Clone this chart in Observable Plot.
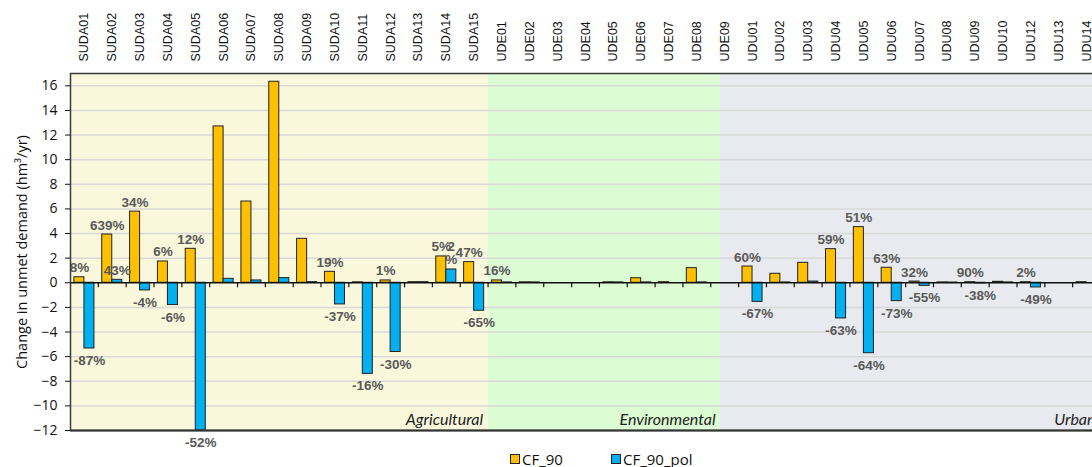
<!DOCTYPE html>
<html>
<head>
<meta charset="utf-8">
<script src="https://cdn.jsdelivr.net/npm/d3@7"></script>
<script src="https://cdn.jsdelivr.net/npm/@observablehq/plot@0.6"></script>
<style>
  html, body { margin: 0; padding: 0; background: #fff; }
  body { width: 1092px; height: 467px; overflow: hidden; }
  #chart { width: 1100px; }
  #legend { position: relative; height: 17px; font-family: "Open Sans", sans-serif; font-size: 15px; color: #111; }
  .item { position: absolute; top: 0; display: flex; align-items: center; height: 17px; }
  .sw { width: 8px; height: 8px; border: 1px solid #222; margin-right: 2px; }
</style>
</head>
<body>
<div id="chart"></div>
<div id="legend"></div>
<script>
const categories = ["SUDA01","SUDA02","SUDA03","SUDA04","SUDA05","SUDA06","SUDA07","SUDA08","SUDA09","SUDA10","SUDA11","SUDA12","SUDA13","SUDA14","SUDA15",
  "UDE01","UDE02","UDE03","UDE04","UDE05","UDE06","UDE07","UDE08","UDE09",
  "UDU01","UDU02","UDU03","UDU04","UDU05","UDU06","UDU07","UDU08","UDU09","UDU10","UDU12","UDU13","UDU14"];
const cf90 = [0.45,3.92,5.78,1.73,2.76,12.7,6.6,16.33,3.57,0.89,0.04,0.19,0.05,2.14,1.68,
  0.19,0.04,0,0,0.04,0.37,0.05,1.19,0,
  1.32,0.73,1.62,2.73,4.52,1.22,0.1,0.03,0.05,0.08,0.05,0,0.05];
const cf90pol = [-5.34,0.24,-0.62,-1.81,-12,0.32,0.19,0.38,0.05,-1.76,-7.4,-5.62,0.05,1.08,-2.27,
  0.03,0.03,0,0,0.03,0.03,0,0.03,0,
  -1.55,0.03,0.1,-2.9,-5.72,-1.49,-0.25,0.02,-0.05,0.03,-0.38,0,0];
const cf90Labels = ["8%","639%","34%","6%","12%","","","","","19%","","1%","","5%","47%",
  "16%","","","","","","","","",
  "60%","","","59%","51%","63%","32%","","90%","","2%","",""];
const cf90polLabels = ["-87%","43%","-4%","-6%","-52%","","","","","-37%","-16%","-30%","","2\n%","-65%",
  "","","","","","","","","",
  "-67%","","","-63%","-64%","-73%","-55%","","-38%","","-49%","",""];
const sectors = ["Agricultural","Environmental","Urban"];
const sectorBreaks = [0, 15, 23.35, 37];
const yTicks = [-12,-10,-8,-6,-4,-2,0,2,4,6,8,10,12,14,16];
const seriesNames = ["CF_90","CF_90_pol"];
const yLabel = "Change in unmet demand (hm³/yr)";

const sectorFill = ["#faf8dc", "#dcfcd3", "#e9eaef"];
const seriesColor = ["#ffc000", "#00b0f0"];

const N = categories.length;
const rows = categories.map((c, i) => ({i, c, a: cf90[i], b: cf90pol[i]}));
const sectorRows = sectors.map((s, k) => ({name: s, x1: sectorBreaks[k], x2: sectorBreaks[k + 1], fill: sectorFill[k]}));
const labels = [];
rows.forEach(r => {
  if (cf90Labels[r.i]) labels.push({x: r.i + 0.32, y: r.a, t: cf90Labels[r.i]});
  if (cf90polLabels[r.i]) labels.push({x: r.i + 0.68, y: r.b, t: cf90polLabels[r.i]});
});
const pos = labels.filter(d => d.y >= 0);
const neg = labels.filter(d => d.y < 0);

const labelStyle = {fill: "#595959", fontWeight: "bold", fontSize: 13.5, fontFamily: "Liberation Sans, Arial, sans-serif"};

const chart = Plot.plot({
  width: 1100, height: 450,
  marginLeft: 70, marginRight: 0, marginTop: 73, marginBottom: 20,
  x: {domain: [0, N], axis: null},
  y: {domain: [-12, 17], axis: null},
  style: {fontFamily: "Liberation Sans, Arial, sans-serif", background: "white", color: "#111"},
  marks: [
    Plot.rect(sectorRows, {x1: "x1", x2: "x2", y1: -12, y2: 17, fill: "fill"}),
    Plot.ruleY(yTicks.filter(v => v !== 0 && v !== -12), {stroke: "#d8d8d8", strokeWidth: 1.5}),
    Plot.text(sectorRows, {x: "x2", y: -12, text: "name", textAnchor: "end", dx: -5, dy: -11,
      fontStyle: "italic", fontSize: 16, fontFamily: "Lato, sans-serif", fill: "#222"}),
    Plot.rectY(rows, {x1: d => d.i + 0.14, x2: d => d.i + 0.5, y: "a", fill: seriesColor[0], stroke: "#222", strokeWidth: 1}),
    Plot.rectY(rows, {x1: d => d.i + 0.5, x2: d => d.i + 0.86, y: "b", fill: seriesColor[1], stroke: "#222", strokeWidth: 1}),
    Plot.ruleY([0], {stroke: "#111", strokeWidth: 1.5}),
    Plot.ruleX(d3.range(1, N + 1), {x: d => d, y1: 0, y2: 0, insetBottom: -5, stroke: "#111", strokeWidth: 1.2}),
    Plot.text(pos, {x: "x", y: "y", text: "t", lineAnchor: "bottom", dy: -5, ...labelStyle}),
    Plot.text(neg, {x: "x", y: "y", text: "t", lineAnchor: "top", dy: 7, ...labelStyle}),
    Plot.axisY({ticks: yTicks, tickSize: 5, tickPadding: 8, fontSize: 14, fontFamily: "Open Sans, sans-serif", label: null}),
    Plot.axisX({anchor: "top", ticks: rows.map(r => r.i + 0.5), tickFormat: v => categories[Math.floor(v)],
      tickRotate: -90, tickSize: 0, tickPadding: 12, fontSize: 12.5, label: null}),
    Plot.frame({stroke: "#3a3a3a", strokeWidth: 1.5}),
    Plot.ruleY([-12], {stroke: "#333", strokeWidth: 2}),
    Plot.text([yLabel], {frameAnchor: "left", textAnchor: "middle", dx: -48, rotate: -90, fontSize: 14.5, fontFamily: "Open Sans, sans-serif", fill: "#111"})
  ]
});
document.getElementById("chart").appendChild(chart);

const legend = document.getElementById("legend");
const legendLeft = [510, 611];
seriesNames.forEach((n, k) => {
  const it = document.createElement("div");
  it.className = "item";
  it.style.left = legendLeft[k] + "px";
  const sw = document.createElement("span");
  sw.className = "sw";
  sw.style.background = seriesColor[k];
  const tx = document.createElement("span");
  tx.textContent = n;
  it.appendChild(sw); it.appendChild(tx);
  legend.appendChild(it);
});
</script>
</body>
</html>
